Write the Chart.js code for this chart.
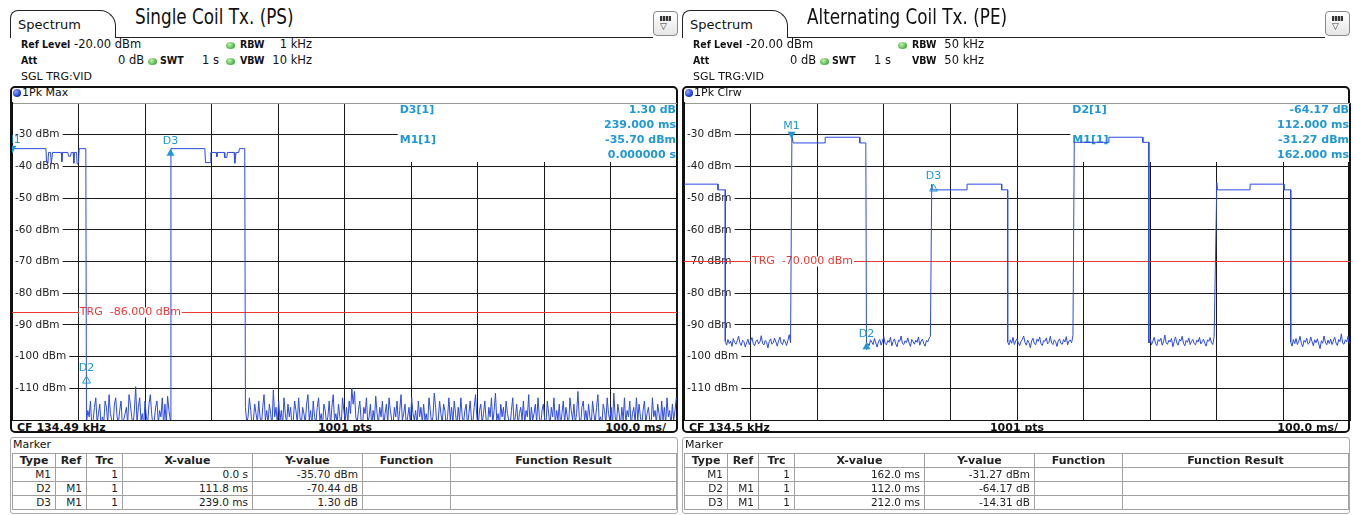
<!DOCTYPE html>
<html>
<head>
<meta charset="utf-8">
<script src="https://cdn.jsdelivr.net/npm/chart.js@4.4.1/dist/chart.umd.min.js"></script>
<style>
  body { margin:0; width:1353px; height:515px; overflow:hidden; background:#fff; font-family:"DejaVu Sans", Verdana, sans-serif; color:#111; }
  .panel { position:absolute; top:0; width:681px; height:515px; }
  .tab { position:absolute; left:10px; top:10px; width:106px; height:28px; box-sizing:border-box; border:1px solid #222; border-bottom:none; border-radius:8px 16px 0 0; background:#fff; }
  .tab span { position:absolute; left:7px; top:6px; font-size:13px; }
  .tabline { position:absolute; left:115px; top:37px; width:538px; border-top:1px solid #222; }
  .title { position:absolute; left:135px; top:5px; font-family:"Liberation Sans Narrow","Arial Narrow","DejaVu Sans Condensed",sans-serif; font-size:21px; line-height:24px; white-space:nowrap; transform:scaleX(0.89); transform-origin:left top; }
  .icon { position:absolute; left:653px; top:11px; width:25px; height:25px; box-sizing:border-box; border:1px solid #888; border-radius:4px; background:linear-gradient(#fff,#e6e6e6); }
  .icon i { position:absolute; left:6px; top:4px; width:11px; height:5px; background:repeating-linear-gradient(90deg,#333 0 2px,#bbb 2px 3px); }
  .icon b { position:absolute; left:6px; top:9px; font-size:9px; font-weight:normal; color:#333; }
  .t { position:absolute; font-size:11px; line-height:13px; white-space:nowrap; }
  .h { font-size:11.5px; }
  .b { font-weight:bold; }
  .hb { font-family:"DejaVu Sans Condensed","DejaVu Sans",sans-serif; font-stretch:condensed; font-weight:bold; font-size:10.5px; }
  .r { text-align:right; }
  .dot { position:absolute; width:9px; height:7px; border-radius:50%; background:radial-gradient(circle at 40% 35%, #c4f5b4, #3da83a 75%); }
  .frame { position:absolute; left:10px; top:86px; width:668px; height:347px; box-sizing:border-box; border:2px solid #111; border-radius:5px; }
  .bullet { position:absolute; left:13px; top:89px; width:8px; height:8px; border-radius:50%; background:radial-gradient(circle at 35% 35%, #8fa8ff, #1030c8 70%); }
  canvas { position:absolute; left:12px; top:102px; }
  .mbox { position:absolute; left:10px; top:437px; width:668px; height:77px; box-sizing:border-box; border:1px solid #aaa; border-radius:3px; }
  table.mk { position:absolute; left:12px; top:453px; border-collapse:collapse; table-layout:fixed; font-size:10.5px; color:#222; }
  table.mk td, table.mk th { border:1px solid #a0a0a0; height:13px; line-height:13px; padding:0 4px; white-space:nowrap; overflow:hidden; }
  table.mk th { font-size:11px; text-align:center; }
  table.mk td { text-align:right; }
</style>
</head>
<body>

<div class="panel" style="left:0">
  <div class="tab"><span>Spectrum</span></div>
  <div class="tabline"></div>
  <div class="title">Single Coil Tx. (PS)</div>
  <div class="icon"><i></i><b>▽</b></div>
  <div class="t hb" style="left:21px;top:38px">Ref Level</div>
  <div class="t h" style="left:74px;top:38px">-20.00 dBm</div>
  <div class="dot" style="left:226px;top:42px"></div>
  <div class="t hb" style="left:240px;top:38px">RBW</div>
  <div class="t h r" style="left:262px;width:50px;top:38px">1 kHz</div>
  <div class="t hb" style="left:21px;top:54px">Att</div>
  <div class="t h" style="left:118px;top:54px">0 dB</div>
  <div class="dot" style="left:148px;top:58px"></div>
  <div class="t hb" style="left:160px;top:54px">SWT</div>
  <div class="t h" style="left:202px;top:54px">1 s</div>
  <div class="dot" style="left:226px;top:58px"></div>
  <div class="t hb" style="left:240px;top:54px">VBW</div>
  <div class="t h r" style="left:262px;width:50px;top:54px">10 kHz</div>
  <div class="t" style="left:21px;top:70px">SGL TRG:VID</div>
  <div class="frame"></div>
  <div class="bullet"></div>
  <div class="t" style="left:22px;top:86px">1Pk Max</div>
  <canvas id="psChart" width="666" height="319"></canvas>
  <div class="t b" style="left:17px;top:421px">CF 134.49 kHz</div>
  <div class="t b" style="left:295px;width:100px;top:421px;text-align:center">1001 pts</div>
  <div class="t b r" style="left:566px;width:100px;top:421px">100.0 ms/</div>
  <div class="mbox"></div>
  <div class="t" style="left:13px;top:438px">Marker</div>
  <table class="mk" id="psTable"></table>
</div>

<div class="panel" style="left:672px">
  <div class="tab"><span>Spectrum</span></div>
  <div class="tabline"></div>
  <div class="title">Alternating Coil Tx. (PE)</div>
  <div class="icon"><i></i><b>▽</b></div>
  <div class="t hb" style="left:21px;top:38px">Ref Level</div>
  <div class="t h" style="left:74px;top:38px">-20.00 dBm</div>
  <div class="dot" style="left:226px;top:42px"></div>
  <div class="t hb" style="left:240px;top:38px">RBW</div>
  <div class="t h r" style="left:262px;width:50px;top:38px">50 kHz</div>
  <div class="t hb" style="left:21px;top:54px">Att</div>
  <div class="t h" style="left:118px;top:54px">0 dB</div>
  <div class="dot" style="left:148px;top:58px"></div>
  <div class="t hb" style="left:160px;top:54px">SWT</div>
  <div class="t h" style="left:202px;top:54px">1 s</div>
  <div class="t hb" style="left:240px;top:54px">VBW</div>
  <div class="t h r" style="left:262px;width:50px;top:54px">50 kHz</div>
  <div class="t" style="left:21px;top:70px">SGL TRG:VID</div>
  <div class="frame"></div>
  <div class="bullet"></div>
  <div class="t" style="left:22px;top:86px">1Pk Clrw</div>
  <canvas id="peChart" width="667" height="319"></canvas>
  <div class="t b" style="left:17px;top:421px">CF 134.5 kHz</div>
  <div class="t b" style="left:295px;width:100px;top:421px;text-align:center">1001 pts</div>
  <div class="t b r" style="left:566px;width:100px;top:421px">100.0 ms/</div>
  <div class="mbox"></div>
  <div class="t" style="left:13px;top:438px">Marker</div>
  <table class="mk" id="peTable"></table>
</div>

<script>
// Ось времени (мс) и уровня (dBm)
const timeRange = [0, 1000];
const levelRange = [-120, -20];
const noiseStep = 2;

// Одна катушка (PS): импульсы [мс, dBm]
const psPulse1 = [[0,-35.7],[1,-34.4],[51,-34.4],[52,-38.8],[54,-38.8],[55,-35.6],[58,-35.6],[59,-39.2],[61,-35.6],[74,-35.6],[75,-38.5],[76,-35.6],[84,-35.6],[85,-36.8],[88,-36.8],[89,-35.6],[92,-35.6],[93,-39],[94,-35.6],[97,-35.6],[98,-39.3],[100,-39],[101,-34.4],[111,-34.4]];
const psPulse2 = [[239,-34.4],[290,-34.4],[291,-38.8],[298,-38.8],[299,-35.6],[307,-35.6],[308,-37],[309,-35.6],[319,-35.6],[320,-37.2],[323,-37.2],[324,-35.6],[334,-35.6],[335,-39],[337,-35.6],[341,-35.6],[342,-34.4],[350,-34.4]];
// Шум между импульсами (шаг 2 мс)
const psNoise1Start = 112;
const psNoise1 = [
  -121,-117,-119,-114,-122,-120,-116,-113,-121,-118,-115,-122,-119,-121,-114,-116,-121,-112,-118,-120,
  -122,-115,-113,-119,-121,-117,-114,-122,-120,-118,-116,-121,-112,-115,-119,-122,-117,-109.5,-121,-116,
  -113,-120,-118,-122,-114,-119,-121,-115,-112,-118,-122,-120,-116,-114,-121,-117,-119,-113,-122,-115,
  -121,-112.5,-117,-120
];
const psNoise2Start = 351;
const psNoise2 = [
  -116,-121,-119,-113,-117,-122,-120,-115,-118,-121,-114,-119,-122,-116,-112,-120,-117,-121,-115,-118,
  -122,-110.5,-119,-116,-121,-114,-120,-117,-122,-113,-118,-121,-115,-119,-116,-122,-120,-114,-117,-121,
  -113,-119,-122,-116,-118,-121,-115,-112,-120,-117,-122,-114,-119,-121,-116,-113,-120,-118,-122,-115,
  -117,-121,-119,-114,-122,-116,-112,-120,-118,-121,-115,-119,-122,-113,-117,-120,-116,-121,-114,-118,
  -110,-115,-111,-119,-121,-117,-114,-120,-122,-116,-118,-113,-121,-119,-115,-122,-117,-120,-112.5,-118,
  -121,-116,-119,-114,-122,-118,-115,-121,-113,-117,-120,-122,-116,-119,-114,-121,-117,-112,-120,-118,
  -115,-122,-119,-116,-121,-113,-118,-120,-117,-122,-114,-119,-116,-121,-115,-120,-118,-122,-113,-117,
  -121,-119,-111.5,-116,-122,-120,-114,-118,-121,-115,-117,-122,-119,-113,-120,-116,-121,-114,-118,-122,
  -116,-120,-113,-119,-121,-117,-115,-122,-118,-114,-120,-121,-116,-112,-119,-122,-117,-115,-121,-118,
  -114,-120,-122,-116,-119,-113,-121,-117,-111.5,-120,-118,-122,-115,-119,-116,-121,-114,-118,-120,-122,
  -117,-113,-121,-119,-115,-122,-118,-116,-120,-114,-121,-117,-119,-112,-122,-116,-120,-118,-115,-121,
  -113,-119,-122,-117,-115,-120,-121,-114,-118,-122,-116,-119,-113,-121,-117,-120,-115,-122,-118,-114,
  -121,-116,-119,-122,-113,-117,-120,-115,-121,-118,-111,-119,-122,-116,-114,-120,-117,-121,-115,-119,
  -122,-114,-118,-121,-116,-112,-120,-119,-122,-115,-117,-121,-113,-118,-120,-116,-122,-111.5,-119,-121,
  -115,-118,-122,-116,-120,-113,-121,-117,-119,-114,-122,-118,-116,-121,-113,-120,-115,-119,-122,-117,
  -114,-121,-118,-116,-120,-122,-113,-119,-117,-121,-115,-118,-122,-114,-120,-116,-121,-113,-119,-117,
  -122,-115,-120,-117,-113
];

// Чередующиеся катушки (PE): импульсы [мс, dBm]
const pePulse0 = [[0,-45.6],[51,-45.6],[51,-47.4],[62,-47.4]];
const pePulse1 = [[162,-30.5],[164,-32.6],[212,-32.6],[212,-30.8],[264,-30.8],[264,-32.6],[273,-32.6]];
const pePulse2 = [[372,-45.6],[373,-47.4],[425,-47.4],[425,-45.6],[477,-45.6],[477,-47.4],[486,-47.4]];
const pePulse3 = [[586,-32.4],[638,-32.4],[638,-30.8],[689,-30.8],[689,-32.4],[698,-32.4]];
const pePulse4 = [[800,-45.2],[801,-47.4],[850,-47.4],[850,-45.6],[901,-45.6],[901,-47.4],[911,-47.4]];
const peNoiseStarts = [62, 274, 486, 698, 911];
const peNoise1 = [
  -95.2,-96.4,-94.6,-95.9,-95.1,-96.8,-94.3,-95.5,-96.1,-95,-93.6,-95.7,-96.5,-94.8,-95.3,-97,-95.6,-94.5,-96.2,-95.1,
  -94,-95.8,-96.6,-95.2,-94.7,-96,-95.4,-93.4,-95.9,-96.3,-94.9,-95.5,-97.3,-95.2,-94.4,-96.1,-95.7,-94.2,-95.4,-96.7,
  -95,-93.8,-95.8,-96.2,-94.6,-95.3,-96.5,-94.9,-93.1,-95.6
];
const peNoise2 = [
  -97.8,-95.9,-96.6,-94.7,-95.4,-96.2,-94.3,-95.7,-97,-95.2,-94.6,-96.4,-95.1,-93.7,-95.8,-96.3,-94.9,-95.5,-93.9,-96.6,
  -95.3,-94.4,-96,-96.9,-94.8,-95.2,-93.5,-95.9,-96.2,-95,-95.6,-94.1,-95.7,-96.8,-94.6,-95.3,-96.1,-94.8,-95.5,-93.8,
  -96.4,-95.1,-94.5,-95.9,-96.7,-94.9,-95.4,-94.2,-93.6
];
const peNoise3 = [
  -95.4,-96.3,-94.7,-95.8,-93.9,-96.2,-95.1,-94.4,-95.7,-96.6,-95.2,-94.6,-93.5,-95.5,-96.4,-94.8,-95.6,-97.2,-95.1,-94.2,
  -95.8,-96.3,-94.5,-95.2,-93.8,-95.9,-96.5,-94.9,-95.2,-94.1,-96,-95.5,-93.6,-95.7,-96.2,-94.7,-95.3,-96.8,-95,-94.4,
  -95.9,-96.1,-94.6,-95.4,-93.7,-96.3,-95.1,-94.8,-95.6,-93.4
];
const peNoise4 = [
  -95.7,-94.4,-96.3,-95.1,-93.9,-95.8,-96.5,-94.6,-95.2,-94.2,-96.4,-95.3,-93.2,-95.8,-96.1,-94.8,-95.4,-94.3,-96.9,-95.2,
  -93.8,-95.7,-96.4,-94.5,-95.1,-93.6,-95.8,-96.6,-94.9,-95.5,-94.1,-96.2,-95.2,-94.6,-95.9,-96.3,-94.8,-95.4,-93.9,-96,
  -95.3,-94.5,-95.8,-96.7,-94.7,-95.2,-94,-95.6,-96.2,-93.7
];
const peNoise5 = [
  -95.4,-96.7,-94.6,-95.9,-94.3,-96.2,-95.2,-93.6,-95.8,-96.9,-94.9,-95.5,-94.2,-96.1,-95.7,-93.8,-95.3,-96.6,-94.7,-95.6,
  -94.4,-96,-97.5,-95,-95.8,-93.5,-95.4,-96.3,-94.8,-95.9,-94.5,-96.2,-95.1,-93.9,-95.7,-96.5,-94.6,-95.3,-92.8,-95.8,
  -96.1,-94.7,-95.4,-93.6,-95.9
];

// Маркеры
const psMarkers = [
  { name: 'M1', t: 0, v: -35.7, dir: 'down', filled: true },
  { name: 'D2', t: 111.8, v: -106.14, dir: 'up', filled: false },
  { name: 'D3', t: 239, v: -34.4, dir: 'up', filled: true }
];
const peMarkers = [
  { name: 'M1', t: 162, v: -31.27, dir: 'down', filled: true },
  { name: 'D2', t: 274, v: -95.44, dir: 'up', filled: true },
  { name: 'D3', t: 374, v: -45.58, dir: 'up', filled: false }
];
const psInfo = [['D3[1]', '1.30 dB'], ['', '239.000 ms'], ['M1[1]', '-35.70 dBm'], ['', '0.000000 s']];
const peInfo = [['D2[1]', '-64.17 dB'], ['', '112.000 ms'], ['M1[1]', '-31.27 dBm'], ['', '162.000 ms']];
const psTrigger = -86;
const peTrigger = -70;

// Таблица маркеров
const tableHead = ['Type', 'Ref', 'Trc', 'X-value', 'Y-value', 'Function', 'Function Result'];
const colWidths = [43, 31, 36, 130, 110, 88, 226];
const psRows = [['M1', '', '1', '0.0 s', '-35.70 dBm', '', ''], ['D2', 'M1', '1', '111.8 ms', '-70.44 dB', '', ''], ['D3', 'M1', '1', '239.0 ms', '1.30 dB', '', '']];
const peRows = [['M1', '', '1', '162.0 ms', '-31.27 dBm', '', ''], ['D2', 'M1', '1', '112.0 ms', '-64.17 dB', '', ''], ['D3', 'M1', '1', '212.0 ms', '-14.31 dB', '', '']];

const traceColor = 'rgb(44, 74, 230)';
const markerColor = 'rgb(32, 152, 214)';
const trgColor = 'rgb(240, 56, 50)';

function pulsePoints(list) {
    return list.map(p => ({ x: p[0], y: p[1] }));
}
function noisePoints(start, vals) {
    return vals.map((v, i) => ({ x: start + i * noiseStep, y: v }));
}

const psTrace = [].concat(
    pulsePoints(psPulse1), noisePoints(psNoise1Start, psNoise1),
    pulsePoints(psPulse2), noisePoints(psNoise2Start, psNoise2)
);
const peNoises = [peNoise1, peNoise2, peNoise3, peNoise4, peNoise5];
const pePulses = [pePulse0, pePulse1, pePulse2, pePulse3, pePulse4];
let peTrace = [];
pePulses.forEach((p, i) => {
    peTrace = peTrace.concat(pulsePoints(p), noisePoints(peNoiseStarts[i], peNoises[i]));
});

function fillTable(id, rows) {
    const tbl = document.getElementById(id);
    let html = '<colgroup>' + colWidths.map(w => `<col style="width:${w}px">`).join('') + '</colgroup>';
    html += '<tr>' + tableHead.map(h => `<th>${h}</th>`).join('') + '</tr>';
    rows.forEach(r => {
        html += '<tr>' + r.map(c => `<td>${c}</td>`).join('') + '</tr>';
    });
    tbl.innerHTML = html;
}

// выравнивание линии по пикселю, как у сетки Chart.js
function alignPx(p) {
    return Math.round(p - 0.5) + 0.5;
}

// Плагин: линия триггера, блок показаний и маркеры
const readoutPlugin = {
    id: 'readout',
    beforeDatasetsDraw(chart, args, opts) {
        const { ctx, chartArea: a, scales: { x, y } } = chart;
        ctx.save();
        // линия триггера
        const ty = alignPx(y.getPixelForValue(opts.trigger));
        ctx.strokeStyle = trgColor;
        ctx.lineWidth = 1;
        ctx.beginPath();
        ctx.moveTo(a.left, ty);
        ctx.lineTo(a.right, ty);
        ctx.stroke();
        ctx.font = '11px "DejaVu Sans"';
        ctx.textBaseline = 'middle';
        const label = 'TRG  ' + opts.trigger.toFixed(3) + ' dBm';
        const lx = x.getPixelForValue(102);
        const w = ctx.measureText(label).width;
        ctx.fillStyle = '#fff';
        ctx.fillRect(lx - 1, ty - 5, w + 2, 10);
        ctx.fillStyle = trgColor;
        ctx.fillText(label, lx, ty);
        // белое поле под показаниями
        const bx = x.getPixelForValue(580);
        const by = y.getPixelForValue(-38.6);
        ctx.fillStyle = '#fff';
        ctx.fillRect(bx, a.top + 1, a.right - 1 - bx, by - a.top - 1);
        ctx.font = 'bold 11px "DejaVu Sans"';
        ctx.fillStyle = markerColor;
        const tx = x.getPixelForValue(583);
        opts.info.forEach((row, i) => {
            const ly = a.top + 7 + i * 15;
            ctx.textAlign = 'left';
            ctx.fillText(row[0], tx, ly);
            ctx.textAlign = 'right';
            ctx.fillText(row[1], a.right - 1, ly);
        });
        ctx.restore();
    },
    afterDatasetsDraw(chart, args, opts) {
        const { ctx, chartArea: a, scales: { x, y } } = chart;
        ctx.save();
        ctx.beginPath();
        ctx.rect(a.left, a.top, a.right - a.left, a.bottom - a.top);
        ctx.clip();
        ctx.font = '11px "DejaVu Sans"';
        ctx.textAlign = 'center';
        ctx.textBaseline = 'middle';
        ctx.fillStyle = markerColor;
        ctx.strokeStyle = markerColor;
        ctx.lineWidth = 1;
        opts.markers.forEach(m => {
            const px = alignPx(x.getPixelForValue(m.t));
            const py = y.getPixelForValue(m.v);
            ctx.beginPath();
            if (m.dir === 'down') {
                ctx.moveTo(px, py); ctx.lineTo(px - 4, py - 7); ctx.lineTo(px + 4, py - 7);
            } else {
                ctx.moveTo(px, py); ctx.lineTo(px - 4, py + 7); ctx.lineTo(px + 4, py + 7);
            }
            ctx.closePath();
            if (m.filled) ctx.fill(); else ctx.stroke();
            ctx.fillText(m.name, px, m.dir === 'down' ? py - 13 : py - 8);
        });
        ctx.restore();
    }
};

function makeChart(id, trace, trigger, markers, info) {
    const ctx = document.getElementById(id).getContext('2d');
    return new Chart(ctx, {
        type: 'line',
        data: {
            datasets: [{
                data: trace,
                borderColor: traceColor,
                borderWidth: 1,
                pointRadius: 0,
                tension: 0,
                fill: false
            }]
        },
        options: {
            responsive: false,
            animation: false,
            parsing: false,
            layout: { padding: { top: 1, right: 1, bottom: 1, left: 0 } },
            plugins: {
                legend: { display: false },
                tooltip: { enabled: false },
                readout: { trigger: trigger, markers: markers, info: info }
            },
            scales: {
                x: {
                    type: 'linear',
                    min: timeRange[0],
                    max: timeRange[1],
                    ticks: { display: false, stepSize: 100 },
                    grid: { color: '#1a1a1a', drawTicks: false },
                    border: { color: '#111' },
                    afterFit: s => { s.height = 0; s.paddingLeft = 0; s.paddingRight = 0; }
                },
                y: {
                    min: levelRange[0],
                    max: levelRange[1],
                    ticks: {
                        stepSize: 10,
                        mirror: true,
                        padding: 3,
                        color: '#222',
                        font: { family: 'DejaVu Sans', size: 10.5 },
                        callback: v => (v === levelRange[0] || v === levelRange[1]) ? '' : v + ' dBm',
                        showLabelBackdrop: true,
                        backdropColor: c => (c.tick.value === levelRange[0] || c.tick.value === levelRange[1]) ? 'rgba(0,0,0,0)' : '#fff',
                        backdropPadding: { top: 0, bottom: 0, left: 2, right: 3 }
                    },
                    grid: {
                        color: c => c.tick.value === levelRange[1] ? '#999' : '#1a1a1a',
                        drawTicks: false
                    },
                    border: { color: '#111', width: 2 },
                    afterFit: s => { s.width = 0; s.paddingTop = 0; s.paddingBottom = 0; }
                }
            }
        },
        plugins: [readoutPlugin]
    });
}

document.addEventListener('DOMContentLoaded', function() {
    fillTable('psTable', psRows);
    fillTable('peTable', peRows);
    makeChart('psChart', psTrace, psTrigger, psMarkers, psInfo);
    makeChart('peChart', peTrace, peTrigger, peMarkers, peInfo);
});
</script>
</body>
</html>
